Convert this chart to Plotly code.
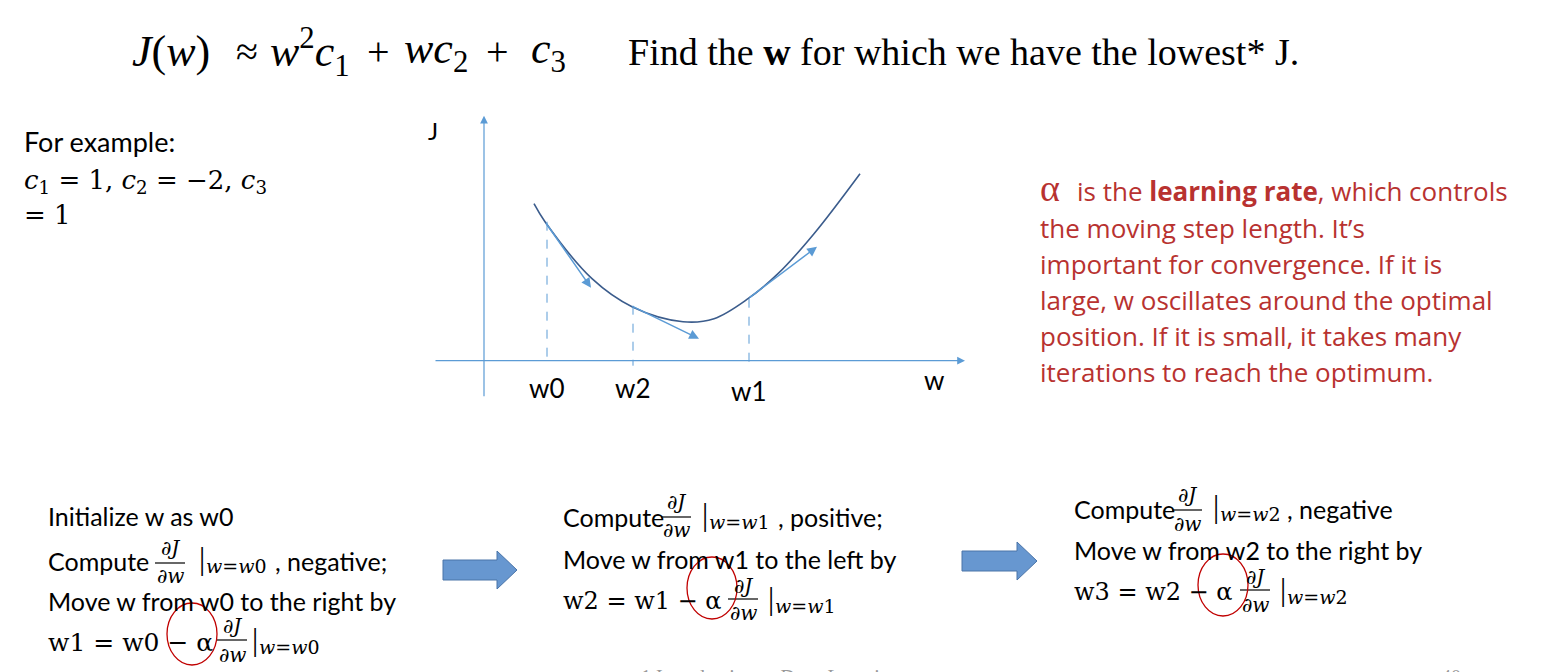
import plotly.graph_objects as go

W, H = 1542, 672

# ==========================================
# data (w, J in the sketch units)
# ==========================================
curve_w = [0.50, 0.61, 1.08, 1.48, 1.99, 2.30, 2.64, 2.94, 3.30, 3.76]
curve_J = [1.57, 1.39, 0.82, 0.54, 0.39, 0.42, 0.62, 0.87, 1.27, 1.87]

mark_names = ["w0", "w2", "w1"]
mark_w = [0.63, 1.49, 2.65]
mark_J = [1.39, 0.55, 0.62]

# tangent arrows (start -> end)
tan_w0 = [0.61, 1.47, 2.64]
tan_J0 = [1.39, 0.55, 0.62]
tan_w1 = [1.07, 2.15, 3.33]
tan_J1 = [0.73, 0.22, 1.14]

c_values = ["1", "−2", "1"]

note_lines = [
    "the moving step length. It’s",
    "important for convergence. If it is",
    "large, w oscillates around the optimal",
    "position. If it is small, it takes many",
    "iterations to reach the optimum.",
]

steps = [
    dict(pre="Initialize w as w0", at="w0", sign=", negative;",
         move="Move w from w0 to the right by", new="w1", old="w0"),
    dict(pre=None, at="w1", sign=", positive;",
         move="Move w from w1 to the left by", new="w2", old="w1"),
    dict(pre=None, at="w2", sign=", negative",
         move="Move w from w2 to the right by", new="w3", old="w2"),
]

SANS = "Lato"
SERIF = "Liberation Serif"
MATH = "DejaVu Serif"
BLUE = "#5B9BD5"
RED = "#C00000"
NOTE = "#B83230"

annotations = []
shapes = []


def px(x):
    return x / W


def py(y):
    return 1 - y / H


def txt(x, y, s, size, family=SANS, color="black", anchor="left"):
    annotations.append(dict(x=px(x), y=py(y), xref="paper", yref="paper", text=s,
                            showarrow=False, xanchor=anchor, yanchor="middle", borderpad=0,
                            font=dict(size=size, family=family, color=color)))


def frac(xc, y_num, y_line, y_den, width=30, size=20):
    txt(xc, y_num, "∂<i>J</i>", size, MATH, anchor="center")
    txt(xc, y_den, "∂<i>w</i>", size, MATH, anchor="center")
    shapes.append(dict(type="line", xref="paper", yref="paper",
                       x0=px(xc - width / 2), x1=px(xc + width / 2),
                       y0=py(y_line), y1=py(y_line), line=dict(color="black", width=1.2)))


def evalbar(x, y, sub, size=19):
    txt(x, y - 3, "|", size + 12, SERIF)
    txt(x + 7, y + 5, "<i>w</i>=<i>w</i>" + sub[1:], size, MATH)


def block_arrow(x0, x1, xh, yc, body, head):
    p = (f"M {px(x0)},{py(yc - body)} L {px(xh)},{py(yc - body)} L {px(xh)},{py(yc - head)} "
         f"L {px(x1)},{py(yc)} L {px(xh)},{py(yc + head)} L {px(xh)},{py(yc + body)} "
         f"L {px(x0)},{py(yc + body)} Z")
    shapes.append(dict(type="path", xref="paper", yref="paper", path=p,
                       fillcolor="#6797D0", line=dict(color="#4A74A8", width=1)))


def ring(xc, yc, rx, ry):
    shapes.append(dict(type="circle", xref="paper", yref="paper",
                       x0=px(xc - rx), x1=px(xc + rx), y0=py(yc + ry), y1=py(yc - ry),
                       line=dict(color=RED, width=1.3)))


fig = go.Figure()

# curve
fig.add_trace(go.Scatter(x=curve_w, y=curve_J, mode="lines",
                         line=dict(color="#3B5C8C", width=1.6, shape="spline", smoothing=1.0),
                         hoverinfo="skip", showlegend=False))

# dashed drops to the w axis
for w, j in zip(mark_w, mark_J):
    fig.add_trace(go.Scatter(x=[w, w], y=[j, -0.05], mode="lines",
                             line=dict(color=BLUE, width=1, dash="dash"),
                             hoverinfo="skip", showlegend=False))

# axes as arrows
annotations.append(dict(x=4.81, y=0, ax=-0.5, ay=0, xref="x", yref="y", axref="x", ayref="y",
                        text="", showarrow=True, arrowhead=2, arrowsize=1.3, arrowwidth=1.2,
                        arrowcolor=BLUE))
annotations.append(dict(x=0, y=2.45, ax=0, ay=-0.37, xref="x", yref="y", axref="x", ayref="y",
                        text="", showarrow=True, arrowhead=2, arrowsize=1.3, arrowwidth=1.2,
                        arrowcolor=BLUE))

# tangent arrows
for a, b, c, d in zip(tan_w0, tan_J0, tan_w1, tan_J1):
    annotations.append(dict(x=c, y=d, ax=a, ay=b, xref="x", yref="y", axref="x", ayref="y",
                            text="", showarrow=True, arrowhead=2, arrowsize=1.3, arrowwidth=1.5,
                            arrowcolor=BLUE))

# axis / mark labels
txt(433, 131, "J", 24, anchor="center")
txt(934, 380, "w", 26, anchor="center")
label_y = [388, 388, 391]
for name, w, ly in zip(mark_names, mark_w, label_y):
    txt(484 + w * 100, ly, name, 26, anchor="center")

# header formula, token by token
txt(171, 52, "<i>J</i>(<i>w</i>)", 44, SERIF, anchor="center")
txt(247, 52, "≈", 40, SERIF, anchor="center")
txt(310, 52, "<i>w</i><sup>2</sup><i>c</i><sub>1</sub>", 44, SERIF, anchor="center")
txt(378, 52, "+", 40, SERIF, anchor="center")
txt(436, 52, "<i>wc</i><sub>2</sub>", 44, SERIF, anchor="center")
txt(497, 52, "+", 40, SERIF, anchor="center")
txt(548, 52, "<i>c</i><sub>3</sub>", 44, SERIF, anchor="center")
txt(627, 52, "Find the <b>w</b> for which we have the lowest* J.", 38, SERIF)

# example
txt(23, 141, "For example:", 27)
txt(23, 182, f"<i>c</i><sub>1</sub> = {c_values[0]}, <i>c</i><sub>2</sub> = {c_values[1]}, <i>c</i><sub>3</sub>", 26, MATH)
txt(23, 215, f"= {c_values[2]}", 26, MATH)

# red note
txt(1039, 188, "α", 38, SERIF, NOTE)
txt(1076, 191, "is the <b>learning rate</b>, which controls", 26, "Open Sans", NOTE)
for i, line in enumerate(note_lines):
    txt(1039, 228 + i * 36, line, 26, "Open Sans", NOTE)

# step blocks
layout_blocks = [
    dict(x=47, pre_y=516, cy=561, fx=170, fn=548, fl=563, fd=576, bx=198, sx=274,
         my=601, ey=642, efx=232, efn=626, efl=640, efd=655, ebx=251, ring=(192, 634), es=25),
    dict(x=562, pre_y=None, cy=517, fx=676, fn=502, fl=517, fd=530, bx=701, sx=777,
         my=559, ey=601, efx=743, efn=586, efl=599, efd=613, ebx=767, ring=(712, 588), es=24),
    dict(x=1073, pre_y=None, cy=509, fx=1187, fn=495, fl=510, fd=524, bx=1212, sx=1286,
         my=550, ey=592, efx=1255, efn=577, efl=590, efd=605, ebx=1279, ring=(1223, 585), es=24),
]
for st, lb in zip(steps, layout_blocks):
    if st["pre"]:
        txt(lb["x"], lb["pre_y"], st["pre"], 25)
    txt(lb["x"], lb["cy"], "Compute", 25)
    frac(lb["fx"], lb["fn"], lb["fl"], lb["fd"])
    evalbar(lb["bx"], lb["cy"], st["at"])
    txt(lb["sx"], lb["cy"], st["sign"], 25)
    txt(lb["x"], lb["my"], st["move"], 25)
    txt(lb["x"], lb["ey"], f"{st['new']} = {st['old']} − α", lb["es"], MATH)
    frac(lb["efx"], lb["efn"], lb["efl"], lb["efd"])
    evalbar(lb["ebx"], lb["ey"], st["at"])
    ring(*lb["ring"], 25, 31)

block_arrow(443, 517, 497, 570, 10, 19)
block_arrow(962, 1037, 1017, 561, 10, 19)

# footer (cut by the window edge, as on the slide)
txt(640, 677, "1 Introduction to Deep Learning", 20, SERIF, "#999999")
txt(1440, 677, "40", 20, SERIF, "#999999")

fig.update_layout(
    width=W, height=H,
    margin=dict(l=0, r=0, t=0, b=0),
    paper_bgcolor="white", plot_bgcolor="white",
    xaxis=dict(domain=[px(420), px(980)], range=[-0.64, 4.96], visible=False),
    yaxis=dict(domain=[py(400), py(110)], range=[-0.393, 2.507], visible=False),
    annotations=annotations, shapes=shapes,
    showlegend=False,
)

fig.write_html("out.html", config={"displayModeBar": False},
               post_script="document.body.style.margin='0px';")
